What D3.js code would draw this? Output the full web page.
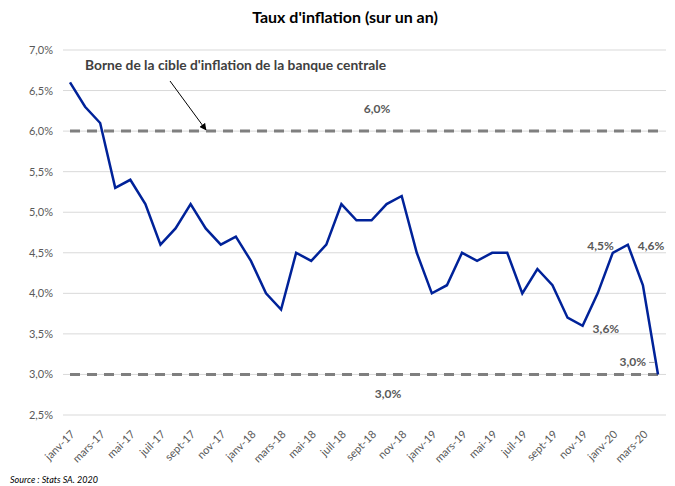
<!DOCTYPE html>
<html lang="fr">
<head>
<meta charset="UTF-8">
<title>Taux d'inflation</title>
<style>
  body { margin: 0; background: #fff; }
  svg { font-family: Lato, "Open Sans", sans-serif; }
</style>
</head>
<body>
<div id="chart"></div>
<script src="https://d3js.org/d3.v7.min.js"></script>
<script>
const WIDTH = 675;
const HEIGHT = 486;

// mois de janv-17 à avr-20
const MONTHS = [
  "janv-17", "févr-17", "mars-17", "avr-17", "mai-17", "juin-17", "juil-17", "août-17", "sept-17", "oct-17", "nov-17", "déc-17",
  "janv-18", "févr-18", "mars-18", "avr-18", "mai-18", "juin-18", "juil-18", "août-18", "sept-18", "oct-18", "nov-18", "déc-18",
  "janv-19", "févr-19", "mars-19", "avr-19", "mai-19", "juin-19", "juil-19", "août-19", "sept-19", "oct-19", "nov-19", "déc-19",
  "janv-20", "févr-20", "mars-20", "avr-20"
];
const INFLATION = [
  6.6, 6.3, 6.1, 5.3, 5.4, 5.1, 4.6, 4.8, 5.1, 4.8, 4.6, 4.7,
  4.4, 4.0, 3.8, 4.5, 4.4, 4.6, 5.1, 4.9, 4.9, 5.1, 5.2, 4.5,
  4.0, 4.1, 4.5, 4.4, 4.5, 4.5, 4.0, 4.3, 4.1, 3.7, 3.6, 4.0,
  4.5, 4.6, 4.1, 3.0
];
const Y_TICKS = [2.5, 3.0, 3.5, 4.0, 4.5, 5.0, 5.5, 6.0, 6.5, 7.0];
const TARGET_BOUNDS = [6.0, 3.0];
const POINT_LABELS = [
  { month: "nov-19", text: "3,6%" },
  { month: "janv-20", text: "4,5%" },
  { month: "févr-20", text: "4,6%" },
  { month: "avr-20", text: "3,0%" }
];

const fmt = v => v.toFixed(1).replace(".", ",") + "%";

const x = d3.scalePoint()
  .domain(MONTHS)
  .range([70, 658]);

const y = d3.scaleLinear()
  .domain([2.5, 7.0])
  .range([415, 50]);

const svg = d3.select("#chart")
  .append("svg")
  .attr("width", WIDTH)
  .attr("height", HEIGHT);

svg.append("text")
  .attr("x", 345)
  .attr("y", 23)
  .attr("text-anchor", "middle")
  .attr("font-size", 16)
  .attr("font-weight", "bold")
  .attr("fill", "#000")
  .text("Taux d'inflation (sur un an)");

// grille
svg.append("g")
  .selectAll("line")
  .data(Y_TICKS)
  .join("line")
  .attr("x1", 63)
  .attr("x2", 666)
  .attr("y1", d => y(d))
  .attr("y2", d => y(d))
  .attr("stroke", "#d9d9d9")
  .attr("stroke-width", 1);

// axe y
const yAxis = svg.append("g")
  .attr("transform", "translate(53,0)")
  .call(d3.axisLeft(y).tickValues(Y_TICKS).tickFormat(fmt).tickSize(0).tickPadding(0));
yAxis.select(".domain").remove();
yAxis.selectAll("text")
  .attr("font-family", "Lato, sans-serif")
  .attr("font-size", 11)
  .attr("fill", "#595959");

// axe x
const xAxis = svg.append("g")
  .attr("transform", "translate(0,415)")
  .call(d3.axisBottom(x).tickValues(MONTHS.filter((m, i) => i % 2 === 0)).tickSize(0).tickPadding(0));
xAxis.select(".domain").remove();
xAxis.selectAll("text")
  .attr("font-family", "Lato, sans-serif")
  .attr("font-size", 11)
  .attr("fill", "#595959")
  .attr("text-anchor", "end")
  .attr("dy", 0)
  .attr("transform", "translate(5,20) rotate(-45)");

// bornes de la cible
svg.append("g")
  .selectAll("line")
  .data(TARGET_BOUNDS)
  .join("line")
  .attr("x1", x(MONTHS[0]))
  .attr("x2", x(MONTHS[MONTHS.length - 1]))
  .attr("y1", d => y(d))
  .attr("y2", d => y(d))
  .attr("stroke", "#7f7f7f")
  .attr("stroke-width", 3)
  .attr("stroke-dasharray", "10,7");

svg.append("text")
  .attr("x", 377)
  .attr("y", 113)
  .attr("text-anchor", "middle")
  .attr("font-size", 12)
  .attr("font-weight", "bold")
  .attr("fill", "#595959")
  .text(fmt(TARGET_BOUNDS[0]));

svg.append("text")
  .attr("x", 388)
  .attr("y", 398)
  .attr("text-anchor", "middle")
  .attr("font-size", 12)
  .attr("font-weight", "bold")
  .attr("fill", "#595959")
  .text(fmt(TARGET_BOUNDS[1]));

// courbe
const line = d3.line()
  .x((d, i) => x(MONTHS[i]))
  .y(d => y(d));

svg.append("path")
  .datum(INFLATION)
  .attr("d", line)
  .attr("fill", "none")
  .attr("stroke", "#002299")
  .attr("stroke-width", 2.5)
  .attr("stroke-linejoin", "miter");

// étiquettes de points : décalage x, décalage ligne de base, ancrage
const labelOffsets = {
  "nov-19": [10, 7, "start"],
  "janv-20": [1, -3, "end"],
  "févr-20": [10, 5, "start"],
  "avr-20": [-12, -8, "end"]
};
svg.append("g")
  .selectAll("text")
  .data(POINT_LABELS)
  .join("text")
  .attr("x", d => x(d.month) + labelOffsets[d.month][0])
  .attr("y", d => y(INFLATION[MONTHS.indexOf(d.month)]) + labelOffsets[d.month][1])
  .attr("text-anchor", d => labelOffsets[d.month][2])
  .attr("font-size", 12)
  .attr("font-weight", "bold")
  .attr("fill", "#595959")
  .text(d => d.text);

// petit trait de rappel pour le 3,0% final
svg.append("line")
  .attr("x1", x("avr-20") - 9)
  .attr("x2", x("avr-20") - 3)
  .attr("y1", y(3.0) - 12)
  .attr("y2", y(3.0) - 12)
  .attr("stroke", "#a6a6a6")
  .attr("stroke-width", 1);

// annotation
svg.append("text")
  .attr("x", 85)
  .attr("y", 70)
  .attr("font-size", 13.8)
  .attr("font-weight", "bold")
  .attr("fill", "#404040")
  .text("Borne de la cible d'inflation de la banque centrale");

svg.append("defs")
  .append("marker")
  .attr("id", "arrow")
  .attr("viewBox", "0 0 10 10")
  .attr("refX", 9)
  .attr("refY", 5)
  .attr("markerWidth", 7)
  .attr("markerHeight", 7)
  .attr("orient", "auto")
  .append("path")
  .attr("d", "M0,0 L10,5 L0,10 Z")
  .attr("fill", "#000");

svg.append("line")
  .attr("x1", 170)
  .attr("y1", 81)
  .attr("x2", 206)
  .attr("y2", 130)
  .attr("stroke", "#000")
  .attr("stroke-width", 1)
  .attr("marker-end", "url(#arrow)");

svg.append("text")
  .attr("x", 10)
  .attr("y", 483)
  .attr("font-size", 9)
  .attr("font-style", "italic")
  .attr("fill", "#000")
  .text("Source : Stats SA. 2020");
</script>
</body>
</html>
